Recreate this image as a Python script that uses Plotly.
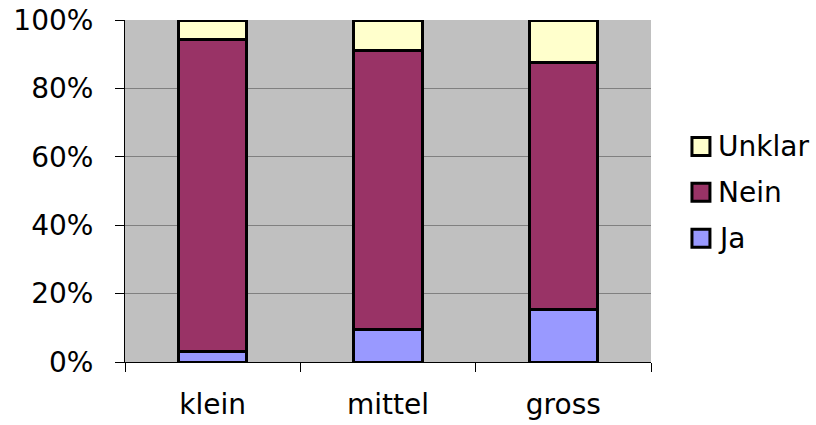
import plotly.graph_objects as go

# Share of answers per size class (percent of each column)
categories = ["klein", "mittel", "gross"]
ja = [3.0, 9.4, 15.3]
nein = [91.4, 81.7, 72.2]
unklar = [5.6, 8.9, 12.5]

y_ticks = [0, 20, 40, 60, 80, 100]

series = [
    ("Ja", ja, "#9999FF"),
    ("Nein", nein, "#993366"),
    ("Unklar", unklar, "#FFFFCC"),
]

FONT = "DejaVu Sans"
FS = 28

fig = go.Figure()
for name, vals, color in series:
    fig.add_trace(go.Bar(
        name=name,
        x=categories,
        y=vals,
        marker=dict(color=color, line=dict(color="black", width=3)),
        showlegend=False,
        hoverinfo="x+y+name",
    ))

fig.update_layout(
    width=816,
    height=425,
    barmode="stack",
    bargap=0.61,
    paper_bgcolor="white",
    plot_bgcolor="#C0C0C0",
    margin=dict(l=125, r=164.5, t=20, b=62.7, pad=0),
    font=dict(family=FONT, size=FS, color="black"),
    xaxis=dict(
        automargin=False,
        showline=True,
        linecolor="black",
        linewidth=1,
        ticks="outside",
        tickson="boundaries",
        ticklen=9,
        tickcolor="black",
        tickwidth=1,
        showgrid=False,
        ticklabelstandoff=17,
        tickfont=dict(family=FONT, size=FS, color="black"),
    ),
    yaxis=dict(
        automargin=False,
        range=[0, 100],
        tickvals=y_ticks,
        ticktext=[f"{v}%" for v in y_ticks],
        showline=True,
        linecolor="black",
        linewidth=1,
        ticks="outside",
        ticklen=9,
        tickcolor="black",
        tickwidth=1,
        showgrid=True,
        gridcolor="#808080",
        gridwidth=1,
        zeroline=False,
        ticklabelstandoff=16,
        tickfont=dict(family=FONT, size=FS, color="black"),
    ),
)

# Legend: boxed swatches with labels, top to bottom Unklar / Nein / Ja
plot_left, plot_w = 125.0, 526.5
plot_bottom, plot_h = 362.3, 342.3


def px_x(px):
    return (px - plot_left) / plot_w


def px_y(py):
    return (plot_bottom - py) / plot_h


legend_rows = [("Unklar", "#FFFFCC", 146.5), ("Nein", "#993366", 192.5), ("Ja", "#9999FF", 238.5)]
for label, color, cy in legend_rows:
    fig.add_shape(
        type="rect", xref="paper", yref="paper",
        x0=px_x(692.5), x1=px_x(710.5),
        y0=px_y(cy + 9), y1=px_y(cy - 9),
        fillcolor=color, line=dict(color="black", width=3),
    )
    fig.add_annotation(
        xref="paper", yref="paper",
        x=px_x(717), y=px_y(cy),
        xanchor="left", yanchor="middle",
        text=label, showarrow=False,
        font=dict(family=FONT, size=FS, color="black"),
    )

fig.write_html("out.html")
